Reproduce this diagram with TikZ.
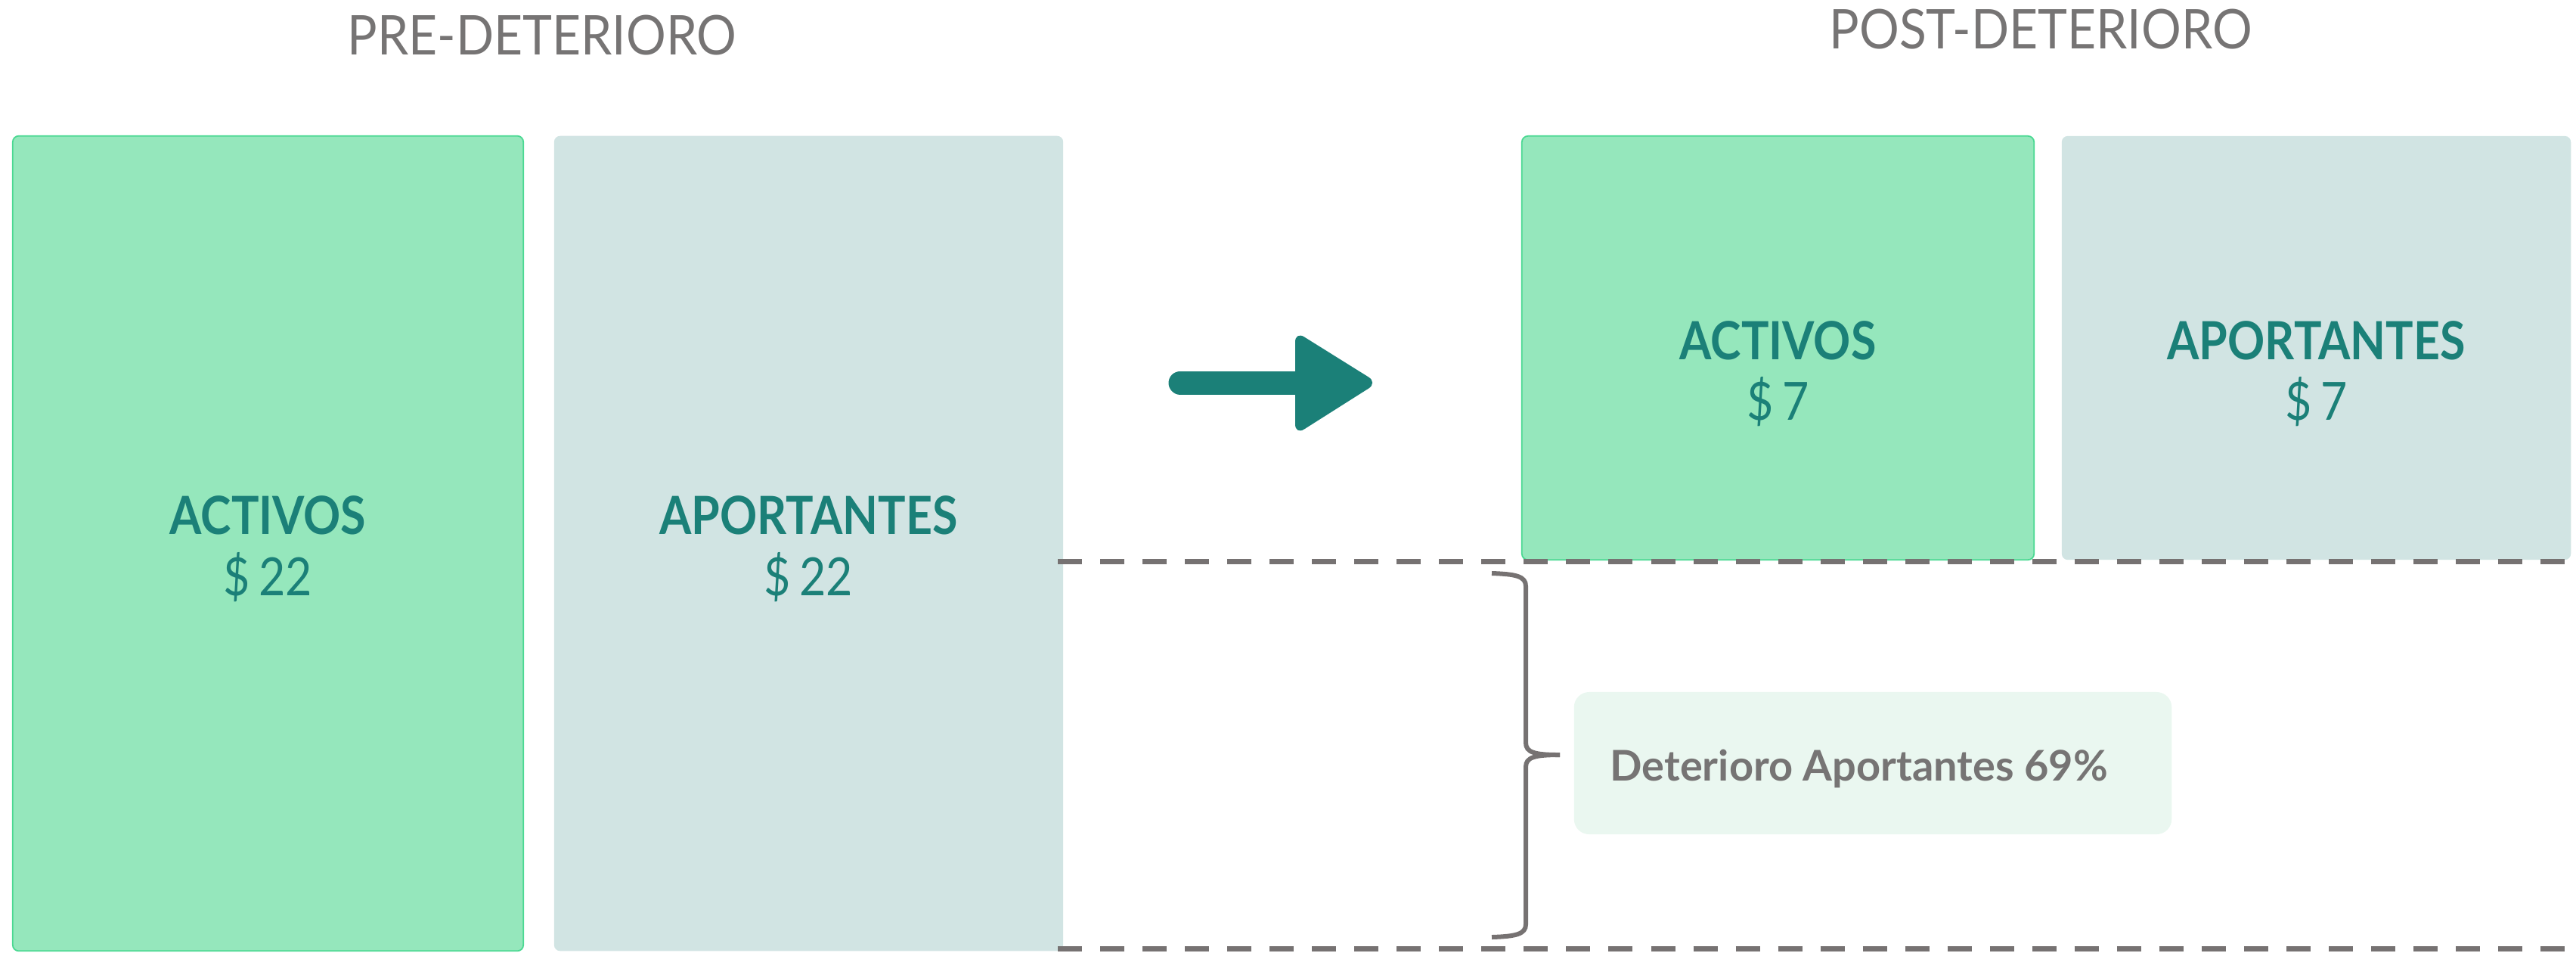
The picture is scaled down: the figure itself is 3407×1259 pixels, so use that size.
\documentclass[tikz,border=0pt]{standalone}
\usepackage{fontspec}
\setmainfont{Lato}
\newfontfamily\titlefont[FakeStretch=0.91]{Lato}
\newfontfamily\labelfont[FakeStretch=0.875]{Lato}
\definecolor{boxgreen}{HTML}{95E7BC}
\definecolor{boxgreenline}{HTML}{4AD892}
\definecolor{boxblue}{HTML}{D1E4E3}
\definecolor{teal}{HTML}{1B8078}
\definecolor{titlegray}{HTML}{767474}
\definecolor{linegray}{HTML}{767272}
\definecolor{notefill}{HTML}{EAF7F0}
\tikzset{
  titletext/.style={font=\titlefont\fontsize{20.6pt}{24pt}\selectfont, text=titlegray, anchor=base, inner sep=0},
  greenbox/.style={fill=boxgreen, draw=boxgreenline, line width=0.5pt, rounded corners=0.08cm, inner sep=0, outer sep=0},
  bluebox/.style={fill=boxblue, rounded corners=0.08cm, inner sep=0, outer sep=0},
  labeltext/.style={font=\labelfont\bfseries\fontsize{19.8pt}{24pt}\selectfont, text=teal, anchor=base, inner sep=0},
  valuetext/.style={font=\labelfont\fontsize{19.8pt}{24pt}\selectfont, text=teal, anchor=base, inner sep=0},
  dashline/.style={draw=linegray, line width=0.07cm, dash pattern=on 0.32cm off 0.24cm},
  bracestyle/.style={draw=linegray, line width=0.06cm},
  notebox/.style={fill=notefill, rounded corners=0.2cm, inner sep=0, outer sep=0},
  notetext/.style={font=\bfseries\fontsize{15.9pt}{19pt}\selectfont, text=titlegray, anchor=base west, inner sep=0},
}
\begin{document}
\begin{tikzpicture}[x=0.01cm, y=-0.01cm]
\useasboundingbox (0,0) rectangle (3407,1259);
% titles
\node[titletext] (pretitle) at (717,72) {PRE-DETERIORO};
\node[titletext] (posttitle) at (2699,64) {POST-DETERIORO};
% pre boxes
\node[greenbox, minimum width=6.75cm, minimum height=10.77cm] (preact) at (354.5,718.5) {};
\node[bluebox, minimum width=6.73cm, minimum height=10.77cm] (preapo) at (1069.5,718.5) {};
\node[labeltext] (preactl) at (354.5,706) {ACTIVOS};
\node[valuetext] (preactv) at (354.5,787) {\$\,22};
\node[labeltext] (preapol) at (1069.5,706) {APORTANTES};
\node[valuetext] (preapov) at (1069.5,787) {\$\,22};
% post boxes
\node[greenbox, minimum width=6.77cm, minimum height=5.6cm] (postact) at (2351.5,460) {};
\node[bluebox, minimum width=6.73cm, minimum height=5.6cm] (postapo) at (3063.5,460) {};
\node[labeltext] (postactl) at (2351.5,475) {ACTIVOS};
\node[valuetext] (postactv) at (2351.5,555) {\$\,7};
\node[labeltext] (postapol) at (3063.5,475) {APORTANTES};
\node[valuetext] (postapov) at (3063.5,555) {\$\,7};
% dashed lines
\coordinate (d1a) at (1399,742);
\coordinate (d1b) at (3407,742);
\coordinate (d2a) at (1399,1254);
\coordinate (d2b) at (3407,1254);
\draw[dashline] (d1a) -- (d1b);
\draw[dashline] (d2a) -- (d2b);
% arrow
\coordinate (as) at (1561,506);
\coordinate (ae) at (1725,506);
\draw[teal, line width=0.31cm, line cap=round] (as) -- (ae);
\fill[teal, rounded corners=0.14cm] (1713,438) -- (1822,506) -- (1713,575) -- cycle;
% brace
\draw[bracestyle] (1973,758) .. controls (2005,759) and (2018,762) .. (2018,775)
  -- (2018,982) .. controls (2018,995) and (2030,998) .. (2063,998);
\draw[bracestyle] (2063,998) .. controls (2030,998) and (2018,1001) .. (2018,1014)
  -- (2018,1222) .. controls (2018,1235) and (2005,1238) .. (1973,1239);
% note
\node[notebox, minimum width=7.9cm, minimum height=1.88cm] (note) at (2477,1009) {};
\node[notetext] (notel) at (2129,1032) {Deterioro Aportantes 69\%};
\end{tikzpicture}
\end{document}
